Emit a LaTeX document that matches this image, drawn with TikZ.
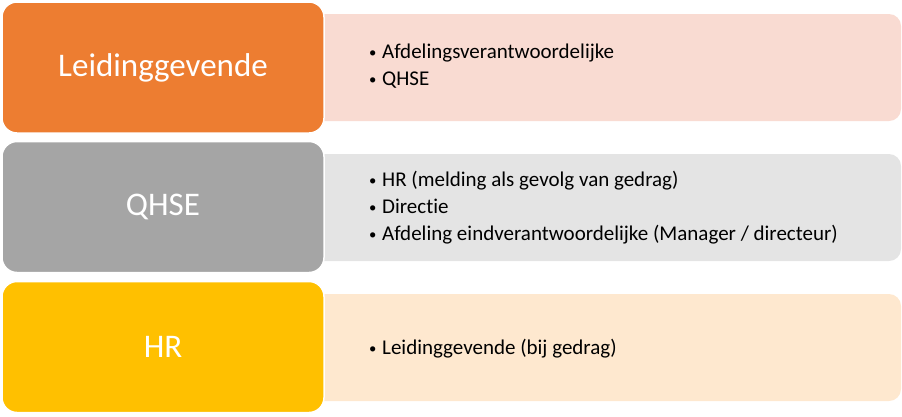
\documentclass[tikz,border=0pt]{standalone}
\usepackage{fontspec}
\setmainfont[Ligatures=NoCommon]{Carlito}
\definecolor{oranje}{HTML}{ED7D31}
\definecolor{oranjelicht}{HTML}{F9DBD2}
\definecolor{grijs}{HTML}{A5A5A5}
\definecolor{grijslicht}{HTML}{E4E4E4}
\definecolor{goud}{HTML}{FFC000}
\definecolor{goudlicht}{HTML}{FEE8CF}
\newcommand{\punt}[1]{\makebox[13pt][l]{\raisebox{1.2pt}{\scalebox{0.7}{\textbullet}}}#1}
\begin{document}
\begin{tikzpicture}[x=1pt,y=-1pt,
    rol/.style={draw=white,line width=1.5pt,rounded corners=15pt,
      minimum width=322pt,minimum height=131pt,inner sep=0pt,
      text=white,font=\fontsize{33}{38}\selectfont},
    lijst/.style={rounded corners=12pt,minimum width=591pt,
      minimum height=107pt,inner sep=0pt},
    punten/.style={anchor=west,align=left,inner sep=0pt,
      font=\fontsize{21}{27}\selectfont}]
  \useasboundingbox (0,0) rectangle (902,416);
  % achterste vlakken
  \node[lijst,fill=oranjelicht] (l1) at (605.5,67.5) {};
  \node[lijst,fill=grijslicht] (l2) at (605.5,207.5) {};
  \node[lijst,fill=goudlicht] (l3) at (605.5,347.5) {};
  % rollen
  \node[rol,fill=oranje] (r1) at (163,67.5) {Leidinggevende};
  \node[rol,fill=grijs] (r2) at (163,207) {QHSE};
  \node[rol,fill=goud] (r3) at (163,347) {HR};
  % meldingen
  \node[punten] (p1) at (369,66) {\punt{Afdelingsverantwoordelijke}\\\punt{QHSE}};
  \node[punten] (p2) at (369,208) {\punt{HR (melding als gevolg van gedrag)}\\
    \punt{Directie}\\\punt{Afdeling eindverantwoordelijke (Manager / directeur)}};
  \node[punten] (p3) at (369,349) {\punt{Leidinggevende (bij gedrag)}};
\end{tikzpicture}
\end{document}
